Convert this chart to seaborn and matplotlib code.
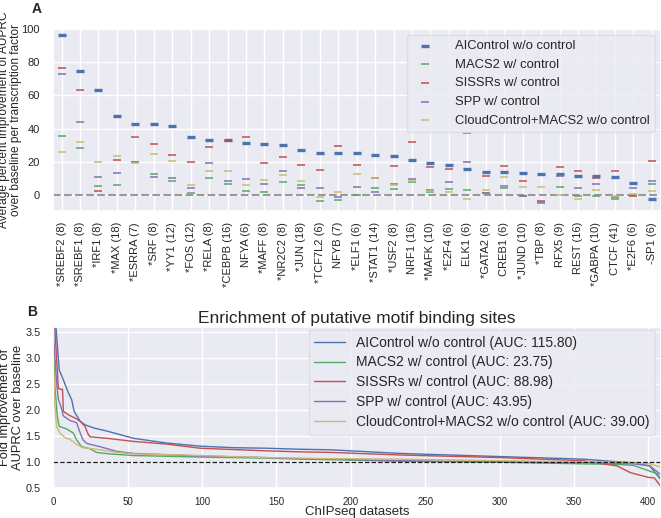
import matplotlib
matplotlib.use('Agg')
import matplotlib.pyplot as plt
import seaborn as sns
import pandas as pd

# panel A: average percent improvement of AUPRC per transcription factor
factors = ['*SREBF2 (8)', '*SREBF1 (8)', '*IRF1 (8)', '*MAX (18)', '*ESRRA (7)', '*SRF (8)',
           '*YY1 (12)', '*FOS (12)', '*RELA (8)', '*CEBPB (16)', 'NFYA (6)', '*MAFF (8)',
           '*NR2C2 (8)', '*JUN (18)', '*TCF7L2 (6)', 'NFYB (7)', '*ELF1 (6)', '*STAT1 (14)',
           '*USF2 (8)', 'NRF1 (16)', '*MAFK (10)', '*E2F4 (6)', 'ELK1 (6)', '*GATA2 (6)',
           'CREB1 (6)', '*JUND (10)', '*TBP (8)', 'RFX5 (9)', 'REST (16)', '*GABPA (10)',
           'CTCF (41)', '*E2F6 (6)', '-SP1 (6)']
aicontrol = [96.4, 74.6, 63.4, 47.5, 42.7, 42.7, 41.6, 34.8, 33.2, 33.2, 31.0, 30.4,
             29.8, 26.8, 25.3, 25.3, 25.0, 24.3, 23.7, 21.1, 18.9, 17.9, 15.7, 13.9,
             13.7, 12.9, 12.5, 12.3, 11.5, 11.1, 10.7, 7.0, -2.6]
macs2 = [35.6, 28.2, 5.2, 5.8, 19.5, 12.7, 8.5, 0.8, 9.9, 6.6, 2.1, 1.6,
         7.8, 6.1, -3.8, -3.2, -0.4, 4.0, 3.4, 8.0, 1.8, 3.4, 3.0, 0.8,
         3.8, -1.0, -5.2, 4.8, -1.0, -1.0, -2.4, -0.4, 6.6]
sissrs = [76.3, 63.2, 2.0, 20.9, 35.0, 30.4, 24.3, 19.5, 29.0, 32.6, 34.8, 19.4,
          22.9, 17.8, 15.1, 29.4, 18.1, 10.3, 17.3, 31.8, 16.7, 15.7, 37.2, 11.3,
          17.5, 8.5, -3.6, 16.9, 14.5, 9.9, 14.1, -0.8, 20.5]
spp = [73.2, 43.7, 10.9, 12.9, 19.9, 10.7, 9.9, 4.1, 19.3, 8.2, 9.7, 6.6,
       14.5, 3.9, 3.8, -1.2, 4.8, 1.8, 6.8, 9.7, 2.8, 7.6, 19.9, 1.2,
       5.4, -0.6, -4.4, 11.3, 4.0, 6.8, -1.6, 4.0, 8.5]
cloudcontrol = [25.6, 31.8, 19.9, 23.5, 19.3, 24.7, 20.3, 6.0, 14.6, 14.5, 5.7, 8.9,
                12.0, 8.5, -1.2, 1.8, 12.7, 10.3, 6.2, 8.2, 2.2, 1.4, -2.4, 2.6,
                10.9, 4.4, 4.4, 0.0, -2.4, 2.6, -0.6, 0.4, 2.0]

methods = ['AIControl w/o control', 'MACS2 w/ control', 'SISSRs w/ control',
           'SPP w/ control', 'CloudControl+MACS2 w/o control']
colors = ['#4C72B0', '#55A868', '#C44E52', '#8172B2', '#CCB974']

# panel B: fold improvement over baseline, read at selected dataset ranks
rank_ai = [0, 1.8, 4, 6.8, 10.2, 12.4, 14, 18, 21.3, 27, 36, 45, 54, 76, 98.6, 121, 143, 166, 186,
           233, 300, 356, 379, 390, 401, 408]
fold_ai = [3.9, 3.6, 2.77, 2.58, 2.33, 2.2, 1.98, 1.79, 1.72, 1.66, 1.60, 1.53, 1.46, 1.37, 1.31,
           1.28, 1.27, 1.25, 1.24, 1.17, 1.11, 1.06, 1.01, 0.99, 0.93, 0.68]
rank_macs = [0, 1.1, 2.7, 4, 9, 13.5, 15.7, 19, 24.7, 29, 38, 54, 98.6, 143, 166, 186,
             233, 300, 356, 379, 390, 400, 406, 409]
fold_macs = [3.3, 2.45, 1.88, 1.69, 1.64, 1.56, 1.43, 1.30, 1.26, 1.19, 1.16, 1.13, 1.10, 1.08,
             1.06, 1.05, 1.02, 1.0, 0.97, 0.96, 0.94, 0.84, 0.78, 0.65]
rank_sissrs = [0, 1, 3.4, 5, 6.2, 6.8, 10.2, 14.6, 18, 21.3, 23.6, 24.7, 36, 54, 76, 98.6, 143,
               166, 186, 233, 300, 356, 379, 388, 400, 404, 408]
fold_sissrs = [3.8, 3.6, 2.42, 2.4, 2.4, 1.98, 1.91, 1.85, 1.79, 1.69, 1.53, 1.49, 1.46, 1.40,
               1.35, 1.27, 1.22, 1.2, 1.19, 1.14, 1.09, 1.03, 0.93, 0.80, 0.71, 0.70, 0.55]
rank_spp = [0, 2.2, 3.4, 5, 6.8, 11.3, 15.7, 18, 20, 22.5, 31.4, 42.6, 54, 98.6, 143, 166, 186,
            233, 300, 356, 379, 390, 401, 409]
fold_spp = [3.5, 2.53, 2.21, 2.08, 1.89, 1.80, 1.76, 1.57, 1.43, 1.36, 1.30, 1.21, 1.17, 1.12,
            1.09, 1.07, 1.06, 1.03, 1.01, 1.0, 0.98, 0.97, 0.93, 0.75]
rank_cloud = [0, 1.1, 2.2, 4.5, 7.9, 11.3, 15.7, 20, 29, 42.6, 54, 76, 98.6, 143, 166, 186,
              233, 300, 356, 379, 390, 401, 409]
fold_cloud = [3.1, 2.1, 1.69, 1.56, 1.47, 1.44, 1.34, 1.28, 1.25, 1.19, 1.16, 1.15, 1.13, 1.09,
              1.08, 1.07, 1.06, 1.03, 1.01, 1.0, 0.99, 0.97, 0.9]
auc = [115.80, 23.75, 88.98, 43.95, 39.00]

sns.set_theme(style='darkgrid')
plt.rcParams['font.family'] = ['Liberation Sans', 'DejaVu Sans']

fig = plt.figure(figsize=(6.61, 5.18), dpi=100)

# ---- panel A
ax1 = fig.add_axes([0.0806, 0.593, 0.9194, 0.3505])
series = [aicontrol, macs2, sissrs, spp, cloudcontrol]
df = pd.DataFrame({'factor': factors * 5,
                   'value': sum(series, []),
                   'method': [m for m in methods for _ in factors]})
for i, m in enumerate(methods):
    sub = df[df.method == m]
    if i == 0:
        sns.scatterplot(data=sub, x='factor', y='value', marker='_', s=40, linewidth=2.4,
                        color=colors[i], ax=ax1, label=m, zorder=3)
    else:
        sns.scatterplot(data=sub, x='factor', y='value', marker='_', s=28, linewidth=1.1,
                        color=colors[i], ax=ax1, label=m, zorder=3)
ax1.axhline(0, color='#999999', ls='--', lw=1.5, zorder=2)
ax1.set_xlim(-0.45, len(factors) - 0.5)
ax1.set_ylim(-9.7, 100)
ax1.set_yticks([0, 20, 40, 60, 80, 100])
ax1.set_xlabel('')
ax1.set_ylabel('Average percent improvement of AUPRC\nover baseline per transcription factor',
               fontsize=8.6, linespacing=1.0)
ax1.yaxis.set_label_coords(-0.052, 0.5)
ax1.tick_params(axis='x', labelrotation=90, labelsize=8, pad=2)
ax1.tick_params(axis='y', labelsize=8, pad=3.5)
ax1.legend(loc='upper right', bbox_to_anchor=(0.99, 0.97), borderaxespad=0, fontsize=9.4,
           frameon=True, facecolor='#EAEAF2', edgecolor='#DADAE2', framealpha=0.8,
           labelspacing=0.5, handletextpad=1.3)
fig.text(0.048, 0.974, 'A', fontsize=10, fontweight='bold')

# ---- panel B
ax2 = fig.add_axes([0.0806, 0.0573, 0.9194, 0.3117])
curves = [(rank_ai, fold_ai), (rank_macs, fold_macs), (rank_sissrs, fold_sissrs),
          (rank_spp, fold_spp), (rank_cloud, fold_cloud)]
for i, (r, f) in enumerate(curves):
    sns.lineplot(x=r, y=f, color=colors[i], lw=1.0, ax=ax2,
                 label='%s (AUC: %.2f)' % (methods[i], auc[i]))
ax2.axhline(1.0, color='k', ls='--', lw=0.9)
ax2.set_xlim(0, 408.5)
ax2.set_ylim(0.5, 3.6)
ax2.set_xticks([0, 50, 100, 150, 200, 250, 300, 350, 400])
ax2.set_yticks([0.5, 1.0, 1.5, 2.0, 2.5, 3.0, 3.5])
ax2.tick_params(axis='x', labelsize=7, pad=0.5)
ax2.tick_params(axis='y', labelsize=7.8, pad=3)
ax2.set_xlabel('ChIPseq datasets', fontsize=9.5, labelpad=-1)
ax2.set_ylabel('Fold improvement of\nAUPRC over baseline', fontsize=9.3, linespacing=1.1)
ax2.yaxis.set_label_coords(-0.048, 0.5)
ax2.set_title('Enrichment of putative motif binding sites', fontsize=12.5, pad=3)
ax2.legend(loc='upper right', bbox_to_anchor=(0.99, 0.98), borderaxespad=0, fontsize=10,
           frameon=True, facecolor='#EAEAF2', edgecolor='#DADAE2', framealpha=0.8,
           labelspacing=0.42, handlelength=2.2)
fig.text(0.041, 0.39, 'B', fontsize=10, fontweight='bold')

fig.savefig('out.png', dpi=100)
